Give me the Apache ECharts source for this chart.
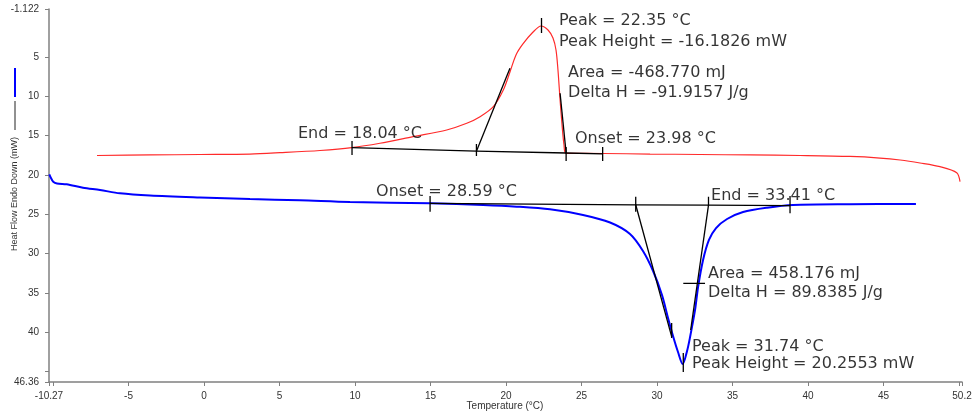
<!DOCTYPE html>
<html><head><meta charset="utf-8">
<script src="https://cdn.jsdelivr.net/npm/echarts@6/dist/echarts.min.js"></script>
<style>html,body{margin:0;padding:0;background:#fff}#c{width:975px;height:419px}</style>
</head><body><div id="c"></div>
<script>
// ---- axis ticks / labels ----
const xLabelValues = [-10.27, -5, 0, 5, 10, 15, 20, 25, 30, 35, 40, 45, 50.2];
const xTickValues = [-10.27, -10, -5, 0, 5, 10, 15, 20, 25, 30, 35, 40, 45, 50, 50.2];
const yLabelValues = [-1.122, 5, 10, 15, 20, 25, 30, 35, 40, 46.36];
const yTickValues = [-1.122, 5, 10, 15, 20, 25, 30, 35, 40, 45, 46.36];

// ---- curves: [temperature °C, heat flow mW] ----
const redCurve = [
  [-7.09,17.53],[-3.58,17.46],[-0.27,17.40],[3.04,17.34],[5.03,17.17],[7.68,16.89],[9.78,16.53],
  [11.65,15.97],[13.84,15.13],[16.07,14.28],[17.40,13.43],[18.28,12.59],[19.16,11.31],[19.82,9.19],
  [20.26,6.90],[20.66,4.73],[21.12,3.33],[21.79,1.81],[22.32,1.04],[22.78,1.55],[23.11,2.57],
  [23.31,4.10],[23.44,6.64],[23.58,10.46],[23.71,13.64],[23.84,16.19],[23.97,17.25],[26.42,17.27],
  [29.54,17.34],[32.85,17.40],[36.16,17.46],[39.47,17.53],[42.78,17.65],[44.77,17.85],[46.10,18.10],
  [47.42,18.48],[48.74,18.95],[49.85,19.72],[50.07,20.86]
];
const blueCurve = [
  [-10.25,19.92],[-10.14,20.39],[-9.99,20.86],[-9.74,21.09],[-9.10,21.19],[-8.02,21.63],[-6.89,21.92],
  [-5.57,22.34],[-3.58,22.62],[-0.27,22.87],[3.04,23.07],[6.35,23.23],[9.67,23.45],[14.97,23.61],
  [18.48,23.83],[20.71,24.04],[22.91,24.38],[25.10,25.10],[26.89,26.06],[28.21,27.52],[29.07,29.68],
  [29.74,32.23],[30.33,35.29],[30.73,38.21],[31.06,40.50],[31.39,42.54],[31.70,44.07],[31.99,42.41],
  [32.19,40.63],[32.52,37.19],[32.72,34.27],[33.05,30.83],[33.44,28.28],[33.91,26.76],[34.64,25.61],
  [35.70,24.72],[37.29,24.17],[39.01,23.83],[42.78,23.73],[47.15,23.70]
];

// ---- analysis construction lines ----
const redBaseline = [[9.8,16.53],[18.04,16.98],[23.98,17.21],[26.4,17.31]];
const redTicks = [[9.8,15.68,17.46],[18.04,16.06,17.59],[23.98,16.45,18.23],[26.4,16.45,18.23],[22.35,0.02,1.93]];
const redTangents = [[[18.04,16.98],[20.26,6.43]],[[23.58,9.61],[23.98,17.21]]];
const blueBaseline = [[14.97,23.61],[28.59,23.80],[33.41,23.85],[38.81,23.92]];
const blueTicks = [[14.97,22.68,24.68],[28.59,22.77,24.68],[33.41,22.77,23.92],[38.81,22.68,24.89],[31.74,42.67,45.09],[30.97,38.85,40.76]];
const blueTangents = [[[28.59,23.80],[30.97,40.59]],[[33.41,23.85],[32.23,39.74]]];
const blueCross = [[31.74,33.80],[33.18,33.80]];

// ---- annotation texts: [x, y, text] (left edge, vertical centre) ----
const annotations = [
  [23.51,0.41,'Peak = 22.35 °C'],
  [23.51,3.08,'Peak Height = -16.1826 mW'],
  [24.11,7.03,'Area = -468.770 mJ'],
  [24.11,9.57,'Delta H = -91.9157 J/g'],
  [6.22,14.79,'End = 18.04 °C'],
  [24.57,15.43,'Onset = 23.98 °C'],
  [11.39,22.17,'Onset = 28.59 °C'],
  [33.58,22.68,'End = 33.41 °C'],
  [33.38,32.61,'Area = 458.176 mJ'],
  [33.38,35.03,'Delta H = 89.8385 J/g'],
  [32.32,41.90,'Peak = 31.74 °C'],
  [32.32,44.07,'Peak Height = 20.2553 mW']
];

const segs = [];
segs.push({coords: redBaseline});
redTicks.forEach(t => segs.push({coords: [[t[0],t[1]],[t[0],t[2]]]}));
redTangents.forEach(t => segs.push({coords: t}));
segs.push({coords: blueBaseline});
blueTicks.forEach(t => segs.push({coords: [[t[0],t[1]],[t[0],t[2]]]}));
blueTangents.forEach(t => segs.push({coords: t}));
segs.push({coords: blueCross});

const axisColor = '#808080';
const labelFont = {fontFamily: 'Liberation Sans', fontSize: 10, color: '#333'};
const fmt = v => String(v);

const chart = echarts.init(document.getElementById('c'), null, {renderer: 'canvas'});
chart.setOption({
  animation: false,
  backgroundColor: '#fff',
  grid: {left: 49, right: 13, top: 9, bottom: 37, containLabel: false},
  xAxis: {
    type: 'value', min: -10.27, max: 50.2,
    axisLine: {onZero: false, lineStyle: {color: axisColor, width: 1.5}},
    axisTick: {show: true, length: 4, customValues: xTickValues, lineStyle: {color: axisColor}},
    axisLabel: Object.assign({margin: 9, customValues: xLabelValues, formatter: fmt, showMinLabel: true, showMaxLabel: true}, labelFont),
    splitLine: {show: false}
  },
  yAxis: {
    type: 'value', min: -1.122, max: 46.36, inverse: true,
    axisLine: {show: true, onZero: false, lineStyle: {color: axisColor, width: 1.5}},
    axisTick: {show: true, length: 4, customValues: yTickValues, lineStyle: {color: axisColor}},
    axisLabel: Object.assign({margin: 10, customValues: yLabelValues, formatter: fmt, showMinLabel: true, showMaxLabel: true}, labelFont),
    splitLine: {show: false}
  },
  graphic: [
    {type: 'line', shape: {x1: 15, y1: 68, x2: 15, y2: 97}, style: {stroke: '#0000ff', lineWidth: 2}},
    {type: 'line', shape: {x1: 15, y1: 101, x2: 15, y2: 130}, style: {stroke: '#222', lineWidth: 1}},
    {type: 'text', x: 15, y: 194, rotation: Math.PI / 2,
      style: {text: 'Heat Flow Endo Down (mW)', align: 'center', verticalAlign: 'middle', font: '9px "Liberation Sans"', fill: '#333'}},
    {type: 'text', x: 505, y: 406,
      style: {text: 'Temperature (°C)', align: 'center', verticalAlign: 'middle', font: '10px "Liberation Sans"', fill: '#333'}}
  ],
  series: [
    {type: 'line', data: redCurve, showSymbol: false, symbol: 'none', smooth: 0.3,
      lineStyle: {color: '#ff2a2a', width: 1.2}, z: 2},
    {type: 'line', data: blueCurve, showSymbol: false, symbol: 'none', smooth: 0.3,
      lineStyle: {color: '#0000ff', width: 2}, z: 2},
    {type: 'lines', coordinateSystem: 'cartesian2d', polyline: true, data: segs,
      lineStyle: {color: '#000', width: 1.3, opacity: 1}, z: 3, silent: true},
    {type: 'scatter', data: annotations.map(a => ({value: [a[0], a[1]], name: a[2]})),
      symbolSize: 0, z: 4, silent: true,
      label: {show: true, position: 'right', distance: 0, formatter: p => p.name,
        fontFamily: 'DejaVu Sans', fontSize: 16, color: '#000'}}
  ]
});
</script></body></html>
